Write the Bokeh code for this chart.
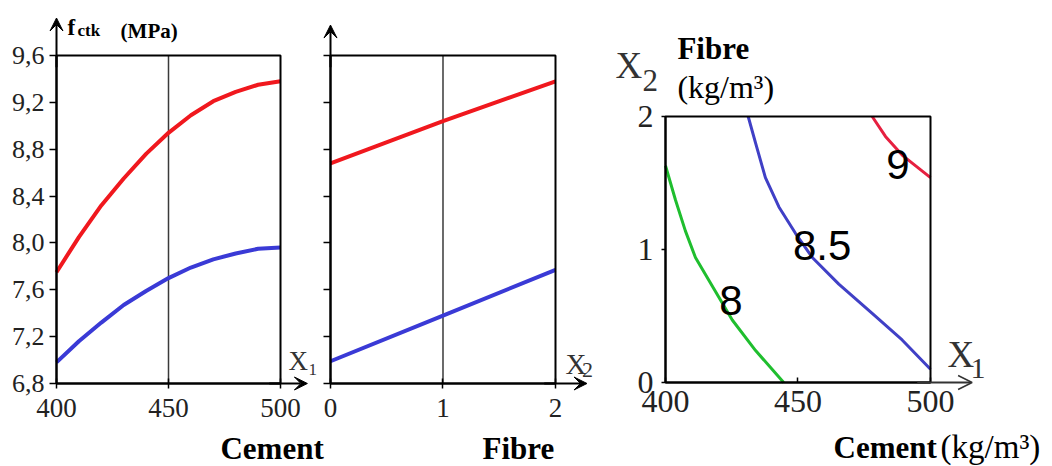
from bokeh.plotting import figure
from bokeh.models import (Range1d, FixedTicker, Label, Arrow, VeeHead, OpenHead,
                          CustomJSTickFormatter, ColumnDataSource, BoxAnnotation, LinearAxis)
from bokeh.core.properties import value
from bokeh.embed import file_html
from bokeh.resources import INLINE

# ---------------- data ----------------
cement = [400, 410, 420, 430, 440, 450, 460, 470, 480, 490, 500]
fetk_cement_high = [7.75, 8.05, 8.32, 8.55, 8.76, 8.94, 9.09, 9.21, 9.29, 9.35, 9.38]
fetk_cement_low = [6.98, 7.16, 7.32, 7.47, 7.59, 7.70, 7.79, 7.86, 7.91, 7.95, 7.96]

fibre = [0, 1, 2]
fetk_fibre_high = [8.68, 9.04, 9.38]
fetk_fibre_low = [6.99, 7.38, 7.77]

fetk_ticks = [6.8, 7.2, 7.6, 8.0, 8.4, 8.8, 9.2, 9.6]
cement_ticks = [400, 450, 500]
fibre_ticks = [0, 1, 2]

# contour lines of f_ctk over (X1 = cement, X2 = fibre)
c8_x1 = [400.0, 403.8, 407.5, 411.3, 416.3, 425.2, 434.0, 444.6]
c8_x2 = [1.63, 1.37, 1.14, 0.94, 0.77, 0.47, 0.24, 0.0]
c85_x1 = [431.2, 434.0, 437.7, 442.8, 449.1, 455.4, 465.4, 478.0, 489.3, 500.0]
c85_x2 = [2.0, 1.80, 1.54, 1.32, 1.12, 0.94, 0.74, 0.52, 0.32, 0.10]
c9_x1 = [478.0, 483.0, 489.3, 495.6, 500.0]
c9_x2 = [2.0, 1.85, 1.71, 1.61, 1.54]
contour_levels = ["8", "8.5", "9"]
contour_label_x1 = [424.7, 459.1, 487.7]
contour_label_x2 = [0.613, 1.030, 1.639]

SERIF = "Liberation Serif"
SANS = "Liberation Sans"
RED = "#f0181e"
BLUE = "#3a3ad6"
TICK_COL = "#222222"
AX_TXT = "#333333"

# one canvas, three coordinate systems
p = figure(width=1052, height=466, output_backend="svg", toolbar_location=None,
           x_range=Range1d(375.0, 844.64), y_range=Range1d(6.0914, 10.0695),
           x_axis_location=None, y_axis_location=None,
           min_border=0, min_border_left=0, min_border_right=0,
           min_border_top=0, min_border_bottom=0)
p.extra_x_ranges = {"fib": Range1d(-2.9333, 6.4178), "cem3": Range1d(149.057, 546.038)}
p.extra_y_ranges = {"fib3": Range1d(-0.6316, 2.8722)}
p.outline_line_color = None
p.background_fill_color = "white"
p.border_fill_color = "white"
p.grid.visible = False

RN1 = dict()
RN2 = dict(x_range_name="fib")
RN3 = dict(x_range_name="cem3", y_range_name="fib3")
PPU12 = 466 / (10.0695 - 6.0914)   # pixels per fetk unit
PPU3 = 466 / (2.8722 + 0.6316)     # pixels per fibre unit (map)


def style_axis(ax, size, tick_in, tick_out, standoff):
    ax.axis_line_color = "black"
    ax.axis_line_width = 2
    ax.major_tick_line_color = "black"
    ax.major_tick_line_width = 1.5
    ax.minor_tick_line_color = None
    ax.major_tick_in = tick_in
    ax.major_tick_out = tick_out
    ax.major_label_standoff = standoff
    ax.major_label_text_color = TICK_COL
    ax.major_label_text_font = SERIF
    ax.major_label_text_font_size = size


def lbl(x, y_base, text, size, rn, ppu, font=SERIF, style="normal", color="black"):
    # anchor text by its middle; shift from the intended baseline
    y_mid = y_base + 0.3375 * size / ppu
    p.add_layout(Label(x=x, y=y_mid, text=text, text_font=font, text_font_size=f"{size}px",
                       text_font_style=style, text_align="left", text_baseline="middle",
                       text_color=color, **rn))


def box(xt, yt, rn):
    p.add_layout(BoxAnnotation(left=xt[0], right=xt[-1], bottom=yt[0], top=yt[-1],
                               fill_alpha=0, line_color="black", line_width=2,
                               line_alpha=1, **rn))


comma_fmt = CustomJSTickFormatter(code="return tick.toFixed(1).replace('.', ',');")

# ---------------- panel 1: cement ----------------
box(cement_ticks, fetk_ticks, RN1)
p.segment(x0=[cement_ticks[1]], y0=[fetk_ticks[0]], x1=[cement_ticks[1]], y1=[fetk_ticks[-1]],
          line_color="#3a3a3a", line_width=1.5)
p.line(cement, fetk_cement_high, line_color=RED, line_width=4, line_join="round")
p.line(cement, fetk_cement_low, line_color=BLUE, line_width=4, line_join="round")

y1 = LinearAxis(fixed_location=cement_ticks[0], bounds=(fetk_ticks[0], fetk_ticks[-1]),
                ticker=FixedTicker(ticks=fetk_ticks), formatter=comma_fmt)
style_axis(y1, "26px", 0, 7, 5)
p.add_layout(y1, "left")
x1 = LinearAxis(fixed_location=fetk_ticks[0], bounds=(cement_ticks[0], cement_ticks[-1]),
                ticker=FixedTicker(ticks=cement_ticks))
style_axis(x1, "27px", 5, 5, 11)
p.add_layout(x1, "below")

p.add_layout(Arrow(x_start=400, y_start=9.5, x_end=400, y_end=9.92, line_width=2,
                   end=VeeHead(size=13, fill_color="black", line_color="black")))
p.add_layout(Arrow(x_start=495, y_start=6.8, x_end=512, y_end=6.8, line_width=2,
                   end=VeeHead(size=13, fill_color="black", line_color="black")))
lbl(404.9, 9.771, "f", 23, RN1, PPU12, style="bold")
lbl(409.4, 9.762, "ctk", 17, RN1, PPU12, style="bold")
lbl(428.6, 9.745, "(MPa)", 21, RN1, PPU12, style="bold")
lbl(503.6, 6.911, "X", 27, RN1, PPU12, color=AX_TXT)
lbl(512.5, 6.868, "1", 17, RN1, PPU12, color=AX_TXT)
lbl(473.2, 6.160, "Cement", 31, RN1, PPU12, style="bold")

# ---------------- panel 2: fibre ----------------
box(fibre_ticks, fetk_ticks, RN2)
p.segment(x0=[fibre_ticks[1]], y0=[fetk_ticks[0]], x1=[fibre_ticks[1]], y1=[fetk_ticks[-1]],
          line_color="#3a3a3a", line_width=1.5, **RN2)
p.line(fibre, fetk_fibre_high, line_color=RED, line_width=4, **RN2)
p.line(fibre, fetk_fibre_low, line_color=BLUE, line_width=4, **RN2)

y2 = LinearAxis(fixed_location=fibre_ticks[0], bounds=(fetk_ticks[0], fetk_ticks[-1]),
                ticker=FixedTicker(ticks=fetk_ticks),
                formatter=CustomJSTickFormatter(code="return '';"), **RN2)
style_axis(y2, "12px", 0, 7, 0)
p.add_layout(y2, "left")
x2 = LinearAxis(fixed_location=fetk_ticks[0], bounds=(fibre_ticks[0], fibre_ticks[-1]),
                ticker=FixedTicker(ticks=fibre_ticks), **RN2)
style_axis(x2, "27px", 5, 5, 11)
p.add_layout(x2, "below")

p.add_layout(Arrow(x_start=0, y_start=9.5, x_end=0, y_end=9.86, line_width=2,
                   end=VeeHead(size=13, fill_color="black", line_color="black"), **RN2))
p.add_layout(Arrow(x_start=1.9, y_start=6.8, x_end=2.28, y_end=6.8, line_width=2,
                   end=VeeHead(size=13, fill_color="black", line_color="black"), **RN2))
lbl(2.089, 6.885, "X", 29, RN2, PPU12, color=AX_TXT)
lbl(2.235, 6.855, "2", 22, RN2, PPU12, color=AX_TXT)
lbl(1.351, 6.160, "Fibre", 31, RN2, PPU12, style="bold")

# ---------------- panel 3: contour map ----------------
box(cement_ticks, fibre_ticks, RN3)
p.line(c8_x1, c8_x2, line_color="#1fbe2e", line_width=3, line_join="round", **RN3)
p.line(c85_x1, c85_x2, line_color="#4040c6", line_width=3, line_join="round", **RN3)
p.line(c9_x1, c9_x2, line_color="#e62040", line_width=3, line_join="round", **RN3)
src = ColumnDataSource(dict(x=contour_label_x1, y=contour_label_x2, t=contour_levels))
p.text(x="x", y="y", text="t", source=src, text_font_size="42px", text_align="center",
       text_baseline="middle", text_color="black", text_font=value(SANS), **RN3)

y3 = LinearAxis(fixed_location=cement_ticks[0], bounds=(fibre_ticks[0], fibre_ticks[-1]),
                ticker=FixedTicker(ticks=fibre_ticks), **RN3)
style_axis(y3, "32px", 0, 4, 8)
p.add_layout(y3, "left")
x3 = LinearAxis(fixed_location=fibre_ticks[0], bounds=(cement_ticks[0], cement_ticks[-1]),
                ticker=FixedTicker(ticks=cement_ticks), **RN3)
style_axis(x3, "32px", 5, 0, 9)
p.add_layout(x3, "below")

p.add_layout(Arrow(x_start=495, y_start=0, x_end=515.7, y_end=0, line_width=2,
                   line_color="#333333",
                   end=OpenHead(size=14, line_width=1.5, line_color="#333333"), **RN3))
lbl(381.1, 2.286, "X", 37, RN3, PPU3, color=AX_TXT)
lbl(391.3, 2.195, "2", 31, RN3, PPU3, color=AX_TXT)
lbl(404.5, 2.436, "Fibre", 31, RN3, PPU3, style="bold")
lbl(404.5, 2.143, "(kg/m³)", 32, RN3, PPU3)
lbl(506.4, 0.113, "X", 37, RN3, PPU3, color=AX_TXT)
lbl(515.1, 0.030, "1", 30, RN3, PPU3, color=AX_TXT)
lbl(463.4, -0.571, "Cement", 31, RN3, PPU3, style="bold")
lbl(503.8, -0.571, "(kg/m³)", 33, RN3, PPU3)

open("out.html", "w").write(file_html(p, INLINE))
